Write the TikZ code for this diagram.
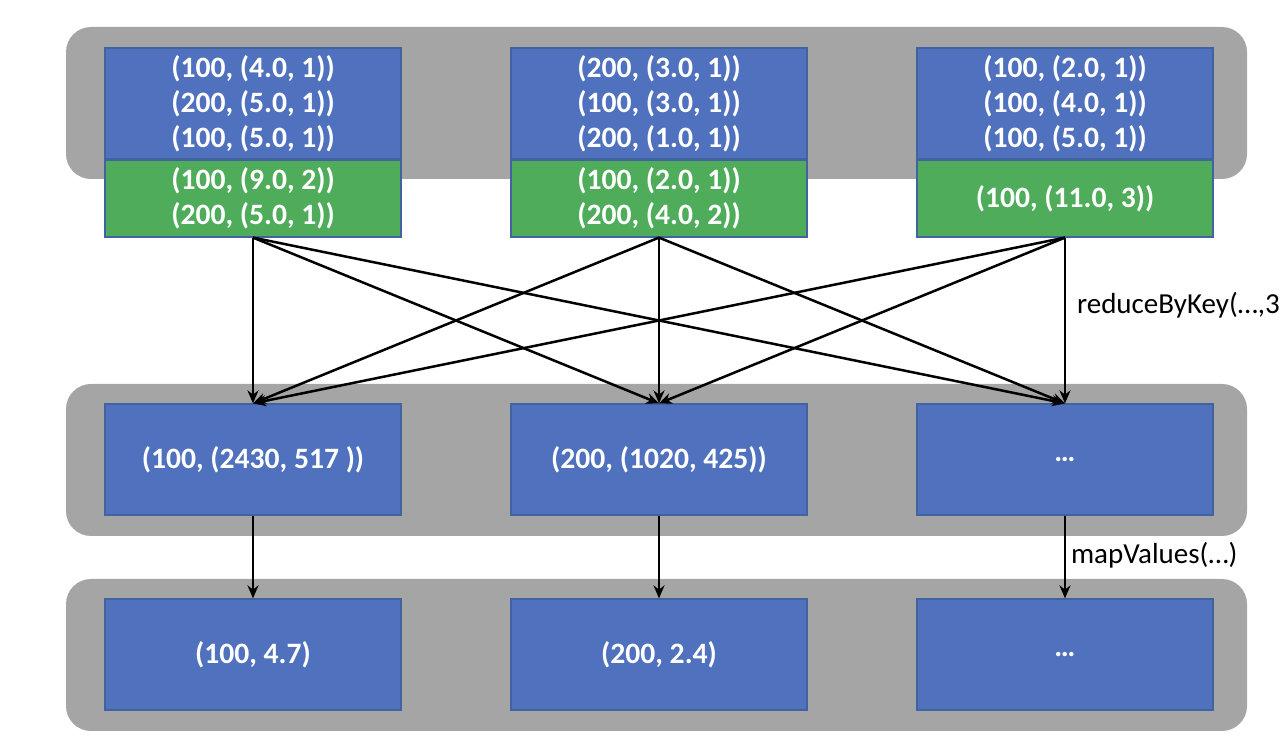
\documentclass[tikz,border=0pt]{standalone}
\usepackage{fontspec}
\setmainfont{Carlito}
\usetikzlibrary{arrows.meta}

\definecolor{panelgray}{RGB}{165,165,165}
\definecolor{partblue}{RGB}{79,113,190}
\definecolor{partgreen}{RGB}{78,172,91}
\definecolor{partedge}{RGB}{65,100,160}

\tikzset{
  part/.style={draw=partedge, line width=0.6pt, fill=partblue, text=white,
    minimum width=148pt, minimum height=55.5pt, align=center,
    font=\bfseries\fontsize{14.8}{17.5}\selectfont},
  combined/.style={part, fill=partgreen, minimum height=38.5pt},
  flow/.style={-{Stealth[length=6.5pt,width=5.5pt]}, line width=1.25pt},
  oplabel/.style={anchor=west, font=\fontsize{14.5}{17}\selectfont}
}

\begin{document}
\begin{tikzpicture}[x=0.5pt,y=-0.5pt]
  \useasboundingbox (0,0) rectangle (1282,742);

  % hátterek
  \fill[panelgray, rounded corners=12.5pt] (66,27) rectangle (1247,179);
  \fill[panelgray, rounded corners=12.5pt] (66,384) rectangle (1247,536);
  \fill[panelgray, rounded corners=12.5pt] (66,579) rectangle (1247,731);

  % bemeneti partíciók
  \node[part] (in1) at (253,103.5) {(100, (4.0, 1))\\(200, (5.0, 1))\\(100, (5.0, 1))};
  \node[part] (in2) at (659,103.5) {(200, (3.0, 1))\\(100, (3.0, 1))\\(200, (1.0, 1))};
  \node[part] (in3) at (1065,103.5) {(100, (2.0, 1))\\(100, (4.0, 1))\\(100, (5.0, 1))};

  % helyi összegzés
  \node[combined] (comb1) at (253,198.5) {(100, (9.0, 2))\\(200, (5.0, 1))};
  \node[combined] (comb2) at (659,198.5) {(100, (2.0, 1))\\(200, (4.0, 2))};
  \node[combined] (comb3) at (1065,198.5) {(100, (11.0, 3))};

  % reduceByKey eredménye
  \node[part] (red1) at (253,459.5) {(100, (2430, 517 ))};
  \node[part] (red2) at (659,459.5) {(200, (1020, 425))};
  \node[part] (red3) at (1065,459.5) {…};

  % mapValues eredménye
  \node[part] (avg1) at (253,654.5) {(100, 4.7)};
  \node[part] (avg2) at (659,654.5) {(200, 2.4)};
  \node[part] (avg3) at (1065,654.5) {…};

  % nyilak (shuffle)
  \draw[flow] (comb1.south) -- (red1.north);
  \draw[flow] (comb1.south) -- (red2.north);
  \draw[flow] (comb1.south) -- (red3.north);
  \draw[flow] (comb2.south) -- (red1.north);
  \draw[flow] (comb2.south) -- (red2.north);
  \draw[flow] (comb2.south) -- (red3.north);
  \draw[flow] (comb3.south) -- (red1.north);
  \draw[flow] (comb3.south) -- (red2.north);
  \draw[flow] (comb3.south) -- (red3.north);

  % nyilak (map)
  \draw[flow] (red1.south) -- (avg1.north);
  \draw[flow] (red2.south) -- (avg2.north);
  \draw[flow] (red3.south) -- (avg3.north);

  % feliratok
  \node[oplabel] (redlabel) at (1070,305) {reduceByKey(…,3};
  \node[oplabel] (maplabel) at (1064,555) {mapValues(…)};

\end{tikzpicture}
\end{document}
